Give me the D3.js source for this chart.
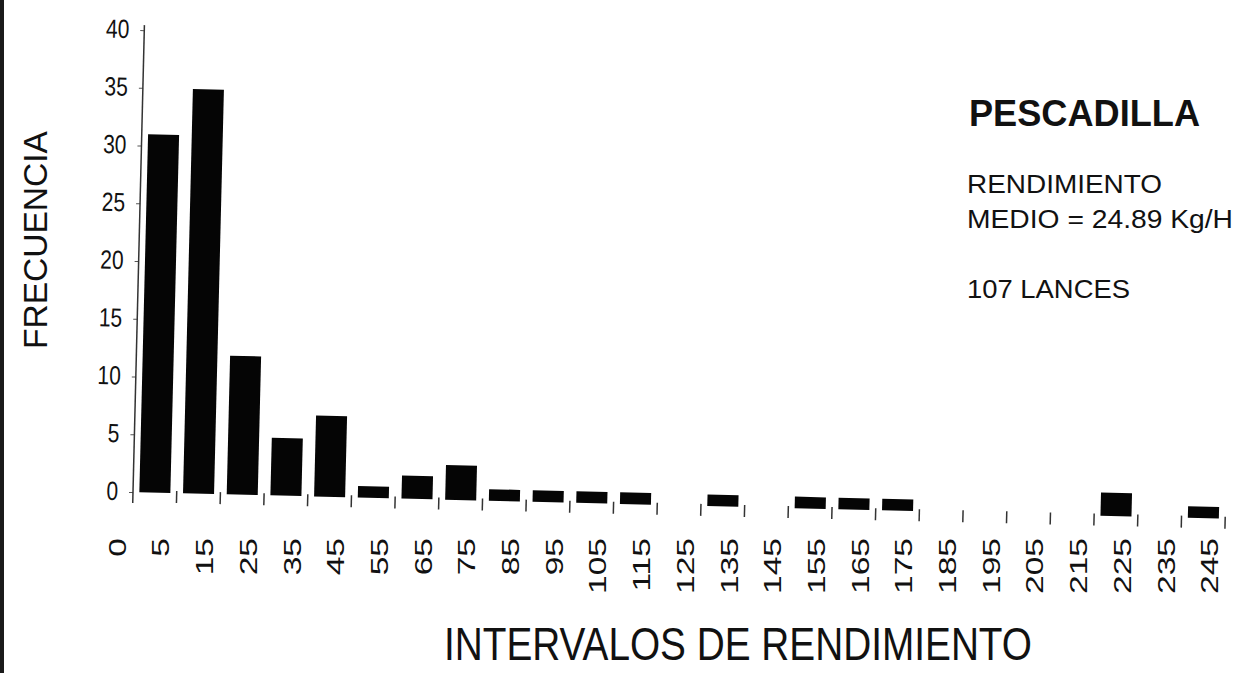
<!DOCTYPE html>
<html>
<head>
<meta charset="utf-8">
<script src="https://cdn.jsdelivr.net/npm/d3@7"></script>
<style>
  html, body { margin: 0; padding: 0; background: #fff; }
  svg { display: block; font-family: "Liberation Sans", Arial, Helvetica, sans-serif; }
</style>
</head>
<body>
<svg id="chart" width="1239" height="673"></svg>
<script>
// Yield intervals (kg/h) and number of hauls falling in each one
const intervals = ["5","15","25","35","45","55","65","75","85","95","105","115","125",
                   "135","145","155","165","175","185","195","205","215","225","235","245"];
const frequency = [31, 35, 12, 5, 7, 1, 2, 3, 1, 1, 1, 1, 0,
                   1, 0, 1, 1, 1, 0, 0, 0, 0, 2, 0, 1];
const axisLabels = ["0", ...intervals];
const yTicks = [0, 5, 10, 15, 20, 25, 30, 35, 40];

const infoTitle = "PESCADILLA";
const infoLines = ["RENDIMIENTO", "MEDIO = 24.89 Kg/H"];
const infoCount = "107 LANCES";
const xTitle = "INTERVALOS DE RENDIMIENTO";
const yTitle = "FRECUENCIA";

const svg = d3.select("#chart");
const ink = "#111";

// plot frame
const X0 = 133, Y0 = 492, step = 43.7;
const x = d3.scaleBand()
  .domain(axisLabels)
  .range([X0 - step, X0 + (axisLabels.length - 1) * step])
  .paddingInner(0.29)
  .paddingOuter(0.145);
const y = d3.scaleLinear().domain([0, 40]).range([Y0, 30]);

// scanned page edge
svg.append("rect").attr("x", 0).attr("y", 0).attr("width", 4).attr("height", 673).attr("fill", "#1a1a1a");

// plotting area is slightly tilted on the page
const plot = svg.append("g").attr("transform", `rotate(1.4, ${X0}, ${Y0})`);

// bars
plot.append("g").selectAll("rect")
  .data(intervals.map((c, i) => ({ c, v: frequency[i] })).filter(d => d.v > 0))
  .join("rect")
  .attr("x", d => x(d.c))
  .attr("width", x.bandwidth())
  .attr("y", d => y(d.v))
  .attr("height", d => y(0) - y(d.v))
  .attr("fill", "#050505");

// category boundary ticks along the base
const gap = (x.step() - x.bandwidth()) / 2;
plot.append("g").selectAll("line")
  .data(intervals)
  .join("line")
  .attr("x1", d => x(d) + x.bandwidth() + gap)
  .attr("x2", d => x(d) + x.bandwidth() + gap)
  .attr("y1", Y0 - 2)
  .attr("y2", Y0 + 10)
  .attr("stroke", "#333")
  .attr("stroke-width", 1.5);

// y axis
const yAxis = plot.append("g")
  .attr("transform", `translate(${X0},0)`)
  .call(d3.axisLeft(y).tickValues(yTicks).tickSizeInner(4).tickSizeOuter(0).tickPadding(11));
yAxis.select(".domain").remove();
yAxis.append("line")
  .attr("x1", 0).attr("x2", 0).attr("y1", 25).attr("y2", Y0 + 11)
  .attr("stroke", "#333").attr("stroke-width", 1.5);
yAxis.selectAll(".tick line").attr("stroke", "#555");
yAxis.selectAll(".tick text")
  .attr("fill", ink)
  .attr("font-size", 21)
  .attr("font-family", "Liberation Sans, Arial, sans-serif")
  .attr("transform", "scale(1,1.25)")
  .attr("dy", "0.3em");

// x labels (rotated)
const xAxis = svg.append("g")
  .attr("transform", `translate(6,538)`)
  .call(d3.axisBottom(x).tickSize(0));
xAxis.select(".domain").remove();
xAxis.selectAll(".tick text")
  .attr("fill", ink)
  .attr("font-size", 24)
  .attr("font-family", "Liberation Sans, Arial, sans-serif")
  .attr("text-anchor", "end")
  .attr("x", 0).attr("y", 0)
  .attr("dy", "0.36em")
  .attr("transform", "rotate(-90) scale(1.4,1)");

// axis titles
svg.append("text")
  .attr("transform", "translate(444,660) scale(1,1.3)")
  .attr("font-size", 36)
  .attr("fill", ink)
  .attr("textLength", 588)
  .attr("lengthAdjust", "spacingAndGlyphs")
  .text(xTitle);

svg.append("text")
  .attr("transform", "translate(47,240) rotate(-90)")
  .attr("text-anchor", "middle")
  .attr("font-size", 34)
  .attr("fill", ink)
  .attr("textLength", 218)
  .attr("lengthAdjust", "spacingAndGlyphs")
  .text(yTitle);

// info block
svg.append("text")
  .attr("x", 969).attr("y", 126)
  .attr("font-size", 36).attr("font-weight", "bold")
  .attr("fill", ink)
  .attr("textLength", 231).attr("lengthAdjust", "spacingAndGlyphs")
  .text(infoTitle);

const lineLens = [195, 266];
svg.selectAll("text.info")
  .data(infoLines)
  .join("text")
  .attr("class", "info")
  .attr("x", 967)
  .attr("y", (d, i) => 193 + i * 35)
  .attr("font-size", 25)
  .attr("fill", ink)
  .attr("textLength", (d, i) => lineLens[i])
  .attr("lengthAdjust", "spacingAndGlyphs")
  .text(d => d);

svg.append("text")
  .attr("x", 967).attr("y", 298)
  .attr("font-size", 25)
  .attr("fill", ink)
  .attr("textLength", 163).attr("lengthAdjust", "spacingAndGlyphs")
  .text(infoCount);
</script>
</body>
</html>
